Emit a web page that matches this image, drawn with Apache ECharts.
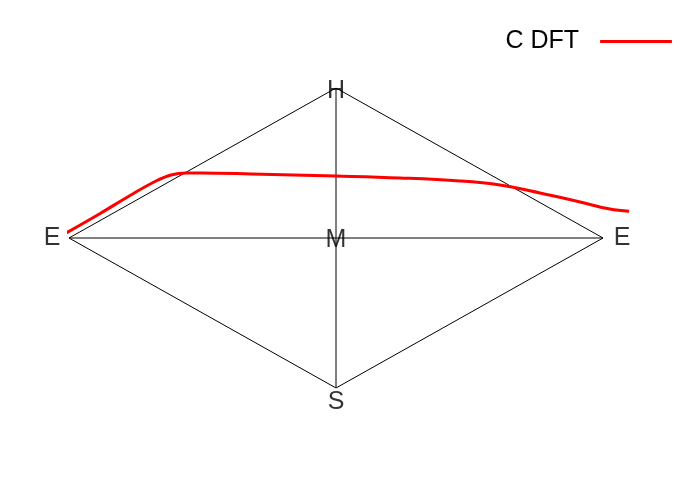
<!DOCTYPE html>
<html><head><meta charset="utf-8">
<script src="https://cdn.jsdelivr.net/npm/echarts@6/dist/echarts.min.js"></script>
<style>html,body{margin:0;padding:0;background:#fff}#c{width:700px;height:480px}</style>
</head><body><div id="c"></div>
<script>
// Diamond vertices (E left, H top, E right, S bottom) and centre M
const vertexNames = ['E', 'H', 'E', 'S', 'M'];
const vertexX = [-1, 0, 1, 0, 0];
const vertexY = [0, 1, 0, -1, 0];
// Red "C DFT" curve
const seriesName = 'C DFT';
const curveX = [-1.011, -0.880, -0.768, -0.674, -0.618, -0.562, -0.506, -0.318, 0.000, 0.240, 0.464, 0.614, 0.764, 0.914, 1.026, 1.098];
const curveY = [0.033, 0.167, 0.287, 0.380, 0.420, 0.433, 0.433, 0.427, 0.413, 0.400, 0.380, 0.353, 0.300, 0.240, 0.193, 0.178];

const chart = echarts.init(document.getElementById('c'));
const font = 'Liberation Sans, Arial, sans-serif';
const labelOffsets = [[-17, 0], [0, 3], [19, 0], [0, 14], [0, 2]];

chart.setOption({
  animation: false,
  grid: { left: 69, width: 574.05, top: 88, height: 300 },
  xAxis: { type: 'value', min: -1, max: 1.15, show: false },
  yAxis: { type: 'value', min: -1, max: 1, show: false },
  legend: {
    data: [{ name: seriesName, icon: 'roundRect' }], right: 23, top: 24, align: 'right',
    itemWidth: 72, itemHeight: 3,
    textStyle: { fontSize: 25, fontFamily: font, color: '#000', padding: [0, 16, 16, 0] }
  },
  series: [
    { type: 'line', silent: true, symbol: 'none',
      data: [[vertexX[0], vertexY[0]], [vertexX[1], vertexY[1]], [vertexX[2], vertexY[2]], [vertexX[3], vertexY[3]], [vertexX[0], vertexY[0]]],
      lineStyle: { color: '#000', width: 1 } },
    { type: 'line', silent: true, symbol: 'none',
      data: [[vertexX[0], vertexY[0]], [vertexX[2], vertexY[2]]],
      lineStyle: { color: '#000', width: 1 } },
    { type: 'line', silent: true, symbol: 'none',
      data: [[vertexX[1], vertexY[1]], [vertexX[3], vertexY[3]]],
      lineStyle: { color: '#000', width: 1 } },
    { type: 'scatter', silent: true, symbolSize: 0,
      data: vertexNames.map((n, i) => ({ value: [vertexX[i], vertexY[i]], name: n,
        label: { offset: labelOffsets[i] } })),
      label: { show: true, position: 'inside', formatter: p => p.name,
        fontSize: 25, fontFamily: font, color: '#000' } },
    { name: seriesName, type: 'line', symbol: 'none', smooth: 0.4,
      data: curveX.map((x, i) => [x, curveY[i]]),
      itemStyle: { color: '#ff0000' },
      lineStyle: { color: '#ff0000', width: 3 } }
  ]
});
</script></body></html>
